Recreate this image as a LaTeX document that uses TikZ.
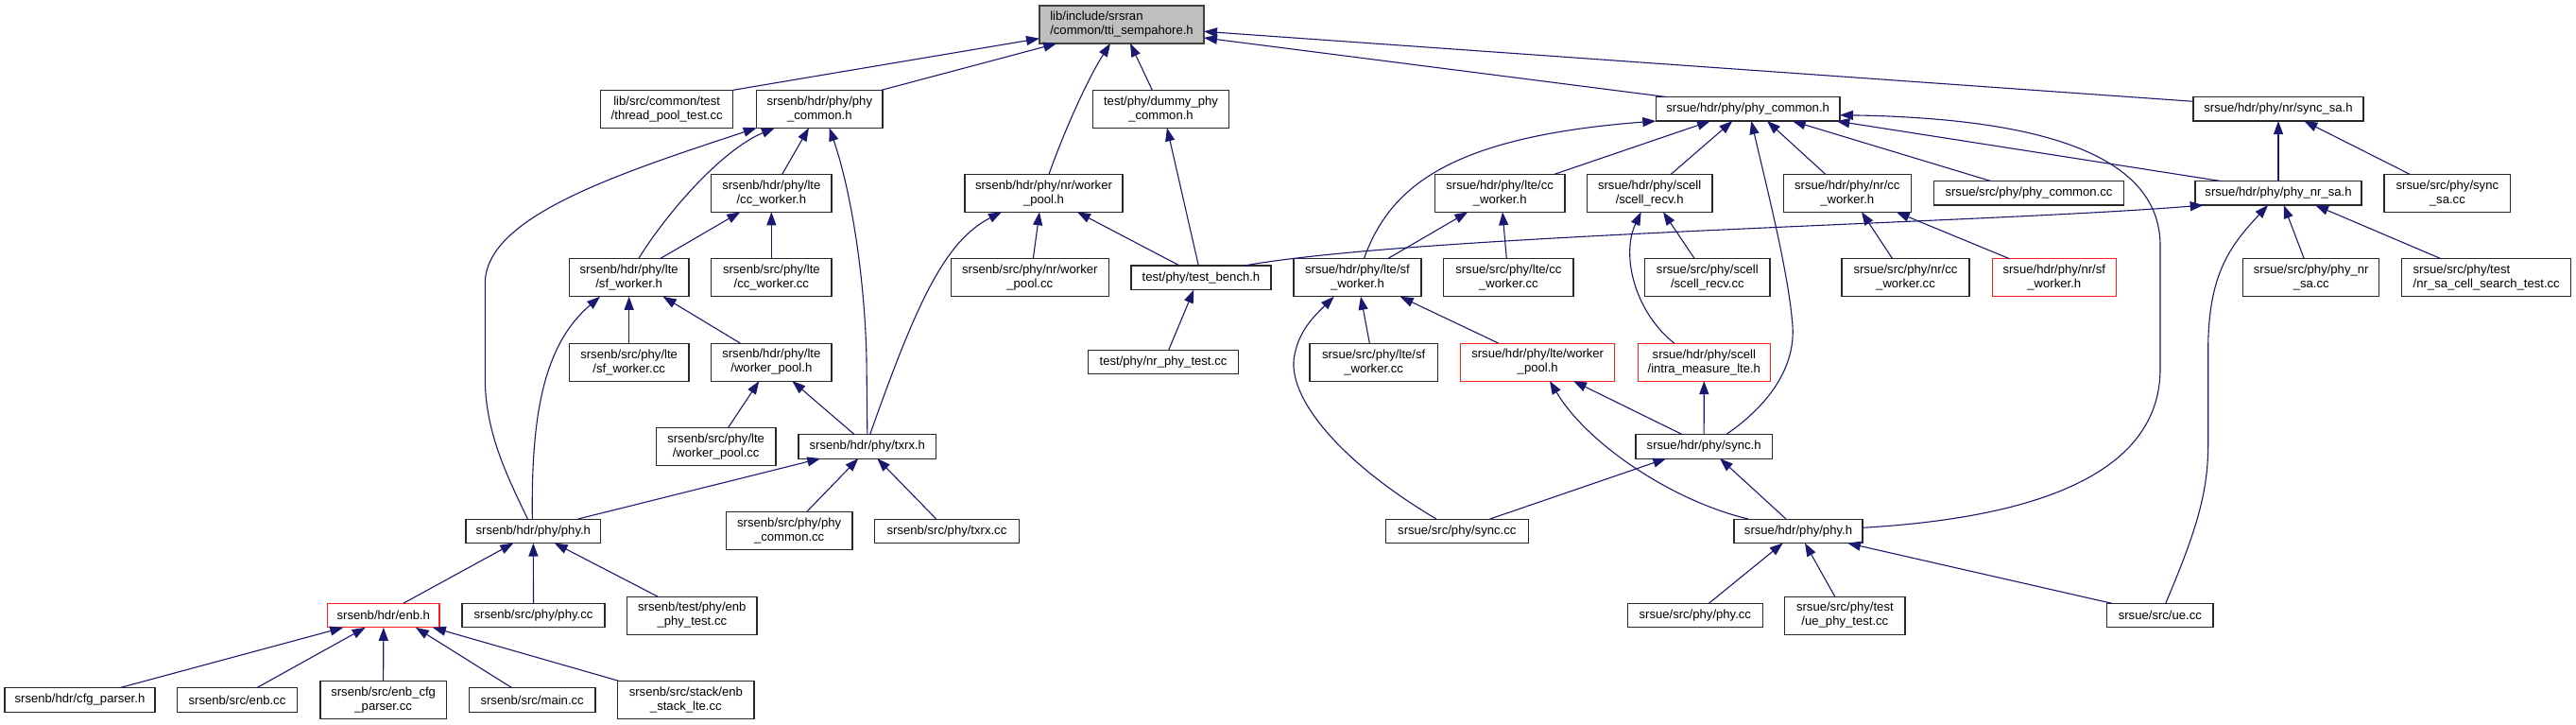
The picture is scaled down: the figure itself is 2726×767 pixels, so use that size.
\documentclass[tikz,border=0pt]{standalone}
\usepackage{fontspec}
\setmainfont{Liberation Sans}
\usetikzlibrary{arrows.meta}
\definecolor{edgec}{RGB}{25,25,112}
\definecolor{mainfill}{RGB}{191,191,191}
\definecolor{mainborder}{RGB}{64,64,64}
\definecolor{nodeborder}{RGB}{40,40,40}
\definecolor{redborder}{RGB}{255,30,30}
\tikzset{
  box/.style={draw=nodeborder, line width=1.1pt, fill=white, inner sep=0pt, outer sep=0pt,
    align=center, font=\fontsize{13.1}{15}\selectfont, text=black},
  two/.style={minimum height=40pt},
  one/.style={minimum height=25.5pt},
  redbox/.style={draw=redborder},
  mainbox/.style={fill=mainfill, draw=mainborder},
  edge/.style={draw=edgec, line width=1.1pt, -{Triangle[length=14pt,width=10pt]}}
}
\begin{document}
\begin{tikzpicture}[x=1pt,y=-1pt]
\fill[white] (0,0) rectangle (2726,767);
\useasboundingbox (0,0) rectangle (2726,767);
% Row A
\node[box,mainbox,minimum width=174pt,minimum height=40pt,align=left] (m) at (1187,26) {lib/include/srsran\\/common/tti\_sempahore.h};
% Row B
\node[box,two,minimum width=140pt] (tpt) at (705.7,115.3) {lib/src/common/test\\/thread\_pool\_test.cc};
\node[box,two,minimum width=133.3pt] (epc) at (867.35,115.3) {srsenb/hdr/phy/phy\\\_common.h};
\node[box,two,minimum width=144.4pt] (dpc) at (1228.5,115.3) {test/phy/dummy\_phy\\\_common.h};
\node[box,one,minimum width=194.7pt] (upc) at (1849.65,115.3) {srsue/hdr/phy/phy\_common.h};
\node[box,one,minimum width=180pt] (ssa) at (2411,115.3) {srsue/hdr/phy/nr/sync\_sa.h};
% Row C
\node[box,two,minimum width=127.3pt] (eccw) at (816.35,204.3) {srsenb/hdr/phy/lte\\/cc\_worker.h};
\node[box,two,minimum width=167pt] (enwp) at (1104.5,204.3) {srsenb/hdr/phy/nr/worker\\\_pool.h};
\node[box,two,minimum width=137.7pt] (uccw) at (1587.15,204.3) {srsue/hdr/phy/lte/cc\\\_worker.h};
\node[box,two,minimum width=132.7pt] (usr) at (1745.65,204.3) {srsue/hdr/phy/scell\\/scell\_recv.h};
\node[box,two,minimum width=135pt] (unccw) at (1954.8,204.3) {srsue/hdr/phy/nr/cc\\\_worker.h};
\node[box,one,minimum width=201.4pt] (upcc) at (2147,204.3) {srsue/src/phy/phy\_common.cc};
\node[box,one,minimum width=176pt] (unsa) at (2411,204.3) {srsue/hdr/phy/phy\_nr\_sa.h};
\node[box,two,minimum width=133.7pt] (ussc) at (2589.85,204.3) {srsue/src/phy/sync\\\_sa.cc};
% Row D
\node[box,two,minimum width=126.7pt] (esfw) at (665.65,293.8) {srsenb/hdr/phy/lte\\/sf\_worker.h};
\node[box,two,minimum width=127.3pt] (eccc) at (816.35,293.8) {srsenb/src/phy/lte\\/cc\_worker.cc};
\node[box,two,minimum width=167pt] (enwpc) at (1089.8,293.8) {srsenb/src/phy/nr/worker\\\_pool.cc};
\node[box,one,minimum width=148pt] (tb) at (1271,293.8) {test/phy/test\_bench.h};
\node[box,two,minimum width=135pt] (usfw) at (1436.5,293.8) {srsue/hdr/phy/lte/sf\\\_worker.h};
\node[box,two,minimum width=137.3pt] (uccc) at (1596.35,293.8) {srsue/src/phy/lte/cc\\\_worker.cc};
\node[box,two,minimum width=132.3pt] (usrc) at (1806.85,293.8) {srsue/src/phy/scell\\/scell\_recv.cc};
\node[box,two,minimum width=135pt] (unccc) at (2016.5,293.8) {srsue/src/phy/nr/cc\\\_worker.cc};
\node[box,two,redbox,minimum width=131pt] (unsfw) at (2173.8,293.8) {srsue/hdr/phy/nr/sf\\\_worker.h};
\node[box,two,minimum width=144pt] (unsac) at (2445.7,293.8) {srsue/src/phy/phy\_nr\\\_sa.cc};
\node[box,two,minimum width=179pt,align=left] (ucst) at (2631.2,293.8) {srsue/src/phy/test\\/nr\_sa\_cell\_search\_test.cc};
% Row E
\node[box,two,minimum width=126.7pt] (esfc) at (665.65,383.1) {srsenb/src/phy/lte\\/sf\_worker.cc};
\node[box,two,minimum width=127.3pt] (ewp) at (816.35,383.1) {srsenb/hdr/phy/lte\\/worker\_pool.h};
\node[box,one,minimum width=159.4pt] (npt) at (1231,383.1) {test/phy/nr\_phy\_test.cc};
\node[box,two,minimum width=135.3pt] (usfc) at (1453.65,383.1) {srsue/src/phy/lte/sf\\\_worker.cc};
\node[box,two,redbox,minimum width=163pt] (uwp) at (1627.2,383.1) {srsue/hdr/phy/lte/worker\\\_pool.h};
\node[box,two,redbox,minimum width=140pt] (uim) at (1803.3,383.1) {srsue/hdr/phy/scell\\/intra\_measure\_lte.h};
% Row F
\node[box,two,minimum width=126.7pt] (ewpc) at (757.65,472.3) {srsenb/src/phy/lte\\/worker\_pool.cc};
\node[box,one,minimum width=145.7pt] (etx) at (917.85,472.3) {srsenb/hdr/phy/txrx.h};
\node[box,one,minimum width=144.3pt] (usy) at (1803.15,472.3) {srsue/hdr/phy/sync.h};
% Row G
\node[box,one,minimum width=142.7pt] (ephy) at (564.35,561.8) {srsenb/hdr/phy/phy.h};
\node[box,two,minimum width=133.7pt] (epcc) at (835.15,561.8) {srsenb/src/phy/phy\\\_common.cc};
\node[box,one,minimum width=152.6pt] (etxc) at (1002,561.8) {srsenb/src/phy/txrx.cc};
\node[box,one,minimum width=151pt] (usyc) at (1541.8,561.8) {srsue/src/phy/sync.cc};
\node[box,one,minimum width=136pt] (uphy) at (1903,561.8) {srsue/hdr/phy/phy.h};
% Row H
\node[box,one,redbox,minimum width=118.3pt] (enb) at (405.85,651.1) {srsenb/hdr/enb.h};
\node[box,one,minimum width=151pt] (ephc) at (564.5,651.1) {srsenb/src/phy/phy.cc};
\node[box,two,minimum width=137.3pt] (ept) at (732.35,651.1) {srsenb/test/phy/enb\\\_phy\_test.cc};
\node[box,one,minimum width=143pt] (uphc) at (1793.8,651.1) {srsue/src/phy/phy.cc};
\node[box,two,minimum width=127.3pt] (upt) at (1952.35,651.1) {srsue/src/phy/test\\/ue\_phy\_test.cc};
\node[box,one,minimum width=112.3pt] (ue) at (2285.85,651.1) {srsue/src/ue.cc};
% Row I
\node[box,one,minimum width=159pt] (cfg) at (84.5,740.4) {srsenb/hdr/cfg\_parser.h};
\node[box,one,minimum width=126.6pt] (enbc) at (251,740.4) {srsenb/src/enb.cc};
\node[box,two,minimum width=133.3pt] (ecp) at (405.65,740.4) {srsenb/src/enb\_cfg\\\_parser.cc};
\node[box,one,minimum width=133.7pt] (mainc) at (563.15,740.4) {srsenb/src/main.cc};
\node[box,two,minimum width=144.3pt] (esl) at (725.85,740.4) {srsenb/src/stack/enb\\\_stack\_lte.cc};
% Edges into main
\draw[edge] (tpt.north east) -- ([yshift=-14.7]m.west);
\draw[edge] ([xshift=-1]epc.north east) -- ([xshift=-68.7]m.south);
\draw[edge] ([xshift=5.5]enwp.north) .. controls (1125,142) and (1150,85) .. ([xshift=-12]m.south);
\draw[edge] ([xshift=-9.2]dpc.north) -- ([xshift=9]m.south);
\draw[edge] ([xshift=-86.35]upc.north) -- ([yshift=-14]m.east);
\draw[edge] ([yshift=8]ssa.west) -- ([yshift=-7.3]m.east);
% srsenb phy_common
\draw[edge] ([xshift=11.35]eccw.north) -- ([xshift=-11.35]epc.south);
\draw[edge] ([xshift=10]esfw.north) .. controls (707,223) and (765,158) .. ([xshift=-47.35]epc.south);
\draw[edge] ([xshift=-6]ephy.north) .. controls (540,510) and (513.3,460) .. (513.3,400) -- (513.3,300) .. controls (513.3,230) and (650,185) .. (epc.south west);
\draw[edge] (etx.north) -- (917,380) .. controls (915,290) and (900,200) .. ([xshift=10.35]epc.south);
% srsenb lte
\draw[edge] ([xshift=32.65]esfw.north) -- ([xshift=-33]eccw.south);
\draw[edge] (eccc.north) -- (eccw.south);
\draw[edge] (esfc.north) -- (esfw.south);
\draw[edge] ([xshift=-33]ewp.north) -- ([xshift=36]esfw.south);
\draw[edge] ([xshift=-1]ephy.north) .. controls (562,440) and (575,365) .. ([xshift=-30.65]esfw.south);
\draw[edge] ([xshift=13]ewpc.north) -- ([xshift=-13]ewp.south);
\draw[edge] ([xshift=-13.85]etx.north) -- ([xshift=22]ewp.south);
% srsenb nr worker pool
\draw[edge] ([xshift=2.85]etx.north) .. controls (970,320) and (1000,255) .. ([xshift=-44.5]enwp.south);
\draw[edge] ([xshift=3.5]enwpc.north) -- ([xshift=-4.5]enwp.south);
\draw[edge] ([xshift=-22.7]tb.north) -- ([xshift=35.5]enwp.south);
% txrx
\draw[edge] ([xshift=47.35]ephy.north) -- ([xshift=-49.55]etx.south);
\draw[edge] ([xshift=18.15]epcc.north) -- ([xshift=-9.55]etx.south);
\draw[edge] ([xshift=-11.3]etxc.north) -- ([xshift=10.45]etx.south);
% srsenb phy.h
\draw[edge] ([xshift=20.85]enb.north) -- ([xshift=-21]ephy.south);
\draw[edge] (ephc.north) -- (ephy.south);
\draw[edge] ([xshift=-36.35]ept.north) -- ([xshift=22.35]ephy.south);
% enb.h
\draw[edge] ([xshift=42.2]cfg.north) -- ([xshift=-42.55]enb.south);
\draw[edge] ([xshift=20.7]enbc.north) -- ([xshift=-19.15]enb.south);
\draw[edge] (ecp.north) -- (enb.south);
\draw[edge] ([xshift=-21.45]mainc.north) -- ([xshift=34]enb.south);
\draw[edge] ([xshift=-70.85]esl.north) -- ([xshift=52]enb.south);
% test
\draw[edge] ([xshift=-2.7]tb.north) -- ([xshift=6.5]dpc.south);
\draw[edge] ([xshift=5.7]npt.north) -- ([xshift=-7.7]tb.south);
\draw[edge] ([xshift=45.7]tb.north) .. controls (1500,248) and (2100,236) .. ([xshift=-79.3]unsa.south);
% srsue phy_common
\draw[edge] ([xshift=6.8]usfw.north) .. controls (1470,200) and (1530,145) .. (upc.south west);
\draw[edge] ([xshift=57.85]uccw.north) -- ([xshift=-39.65]upc.south);
\draw[edge] ([xshift=22.65]usr.north) -- ([xshift=-16.35]upc.south);
\draw[edge] ([xshift=23.55]usy.north) .. controls (1870,430) and (1900,390) .. (1897,345) .. controls (1893,290) and (1870,200) .. ([xshift=3.65]upc.south);
\draw[edge] ([xshift=-23.1]unccw.north) -- ([xshift=20.35]upc.south);
\draw[edge] ([xshift=-40.3]upcc.north) -- ([xshift=47.05]upc.south);
\draw[edge] ([xshift=-61]unsa.north) -- ([xshift=93.65]upc.south);
\draw[edge] ([yshift=3.5]uphy.east) .. controls (2200,545) and (2286,480) .. (2286,390) -- (2286,260) .. controls (2286,160) and (2150,125) .. ([yshift=-6.4]upc.east);
% srsue lte / scell / nr
\draw[edge] ([xshift=31.8]usfw.north) -- ([xshift=-33.85]uccw.south);
\draw[edge] ([xshift=-2.05]uccc.north) -- ([xshift=2.85]uccw.south);
\draw[edge] ([xshift=-31.6]uim.north) .. controls (1730,330) and (1715,270) .. ([xshift=-8.95]usr.south);
\draw[edge] ([xshift=-13.55]usrc.north) -- ([xshift=14.35]usr.south);
\draw[edge] ([xshift=-13.8]unccc.north) -- ([xshift=15.2]unccw.south);
\draw[edge] ([xshift=-47.1]unsfw.north) -- ([xshift=51.9]unccw.south);
\draw[edge] ([xshift=-4.35]usfc.north) -- ([xshift=3.5]usfw.south);
\draw[edge] ([xshift=-41.5]uwp.north) -- ([xshift=45.2]usfw.south);
\draw[edge] ([xshift=-21.8]usyc.north) .. controls (1420,490) and (1360,420) .. (1370,375) .. controls (1375,350) and (1390,335) .. ([xshift=-24.8]usfw.south);
\draw[edge] ([xshift=-23.15]usy.north) -- ([xshift=37.8]uwp.south);
\draw[edge] ([xshift=-53]uphy.north) .. controls (1770,530) and (1680,470) .. ([xshift=12.8]uwp.south);
\draw[edge] (usy.north) -- (uim.south);
\draw[edge] ([xshift=34.9]usyc.north) -- ([xshift=-39.85]usy.south);
\draw[edge] ([xshift=-13]uphy.north) -- ([xshift=16.85]usy.south);
% srsue phy.h
\draw[edge] ([xshift=14.5]uphc.north) -- ([xshift=-16.3]uphy.south);
\draw[edge] ([xshift=-10.65]upt.north) -- ([xshift=7]uphy.south);
\draw[edge] ([xshift=-50.85]ue.north) -- ([xshift=52]uphy.south);
% sync_sa / phy_nr_sa
\draw[edge] (unsa.north) -- (ssa.south);
\draw[edge] ([xshift=-39.85]ussc.north) -- ([xshift=27.3]ssa.south);
\draw[edge] ([xshift=5.85]ue.north) .. controls (2325,560) and (2336.7,520) .. (2336.7,470) -- (2336.7,370) .. controls (2336.7,290) and (2360,260) .. ([xshift=-11]unsa.south);
\draw[edge] ([xshift=-7.4]unsac.north) -- ([xshift=5.7]unsa.south);
\draw[edge] ([xshift=-47.9]ucst.north) -- ([xshift=39]unsa.south);
\end{tikzpicture}
\end{document}
